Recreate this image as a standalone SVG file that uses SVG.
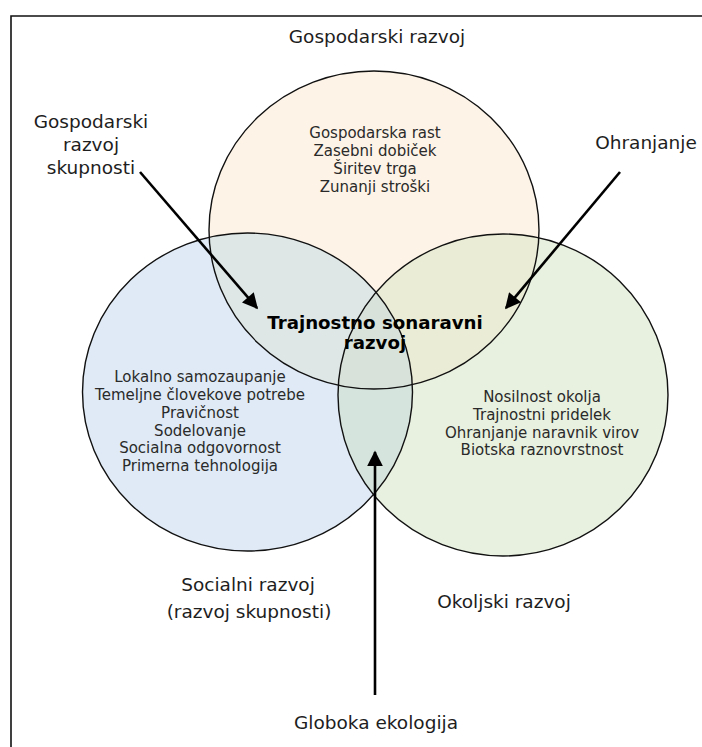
<svg xmlns="http://www.w3.org/2000/svg" width="702" height="747" viewBox="0 0 702 747">
<style>
.lbl{font-family:"DejaVu Sans","Liberation Sans",sans-serif;font-size:18.5px;fill:#1e1e1e;text-anchor:middle}
.in{font-family:"DejaVu Sans","Liberation Sans",sans-serif;font-size:15px;fill:#2a2a2a;text-anchor:middle}
.ctr{font-family:"DejaVu Sans","Liberation Sans",sans-serif;font-size:18.2px;font-weight:bold;fill:#000;text-anchor:middle}
.ring{fill:none;stroke:#111;stroke-width:1.4}
.arr{stroke:#000;stroke-width:2.6;fill:none;marker-end:url(#ah)}
</style>
<defs>
<marker id="ah" viewBox="0 0 10 10" refX="9" refY="5" markerWidth="6.5" markerHeight="6" orient="auto" markerUnits="strokeWidth">
<path d="M0,0 L10,5 L0,10 Z" fill="#000"/>
</marker>
<clipPath id="cT"><ellipse cx="374" cy="230" rx="165" ry="159"/></clipPath>
<clipPath id="cL"><ellipse cx="247.5" cy="392" rx="165" ry="159"/></clipPath>
<clipPath id="cR"><ellipse cx="503" cy="395" rx="165" ry="161"/></clipPath>
</defs>
<rect width="702" height="747" fill="#fff"/>
<path d="M11,747 V16 H702" fill="none" stroke="#111" stroke-width="1.6"/>
<g id="fills">
<ellipse cx="374" cy="230" rx="165" ry="159" fill="#fdf3e6"/>
<ellipse cx="247.5" cy="392" rx="165" ry="159" fill="#dfeaf6"/>
<ellipse cx="503" cy="395" rx="165" ry="161" fill="#e8f0df"/>
<g clip-path="url(#cT)"><ellipse cx="247.5" cy="392" rx="165" ry="159" fill="#dee6e6"/><ellipse cx="503" cy="395" rx="165" ry="161" fill="#eaecd5"/></g>
<g clip-path="url(#cL)"><ellipse cx="503" cy="395" rx="165" ry="161" fill="#d5e4dc"/></g>
<g clip-path="url(#cL)"><g clip-path="url(#cR)"><ellipse cx="374" cy="230" rx="165" ry="159" fill="#d8e2da"/></g></g>
</g>
<g id="node-gospodarski">
<ellipse class="ring" cx="374" cy="230" rx="165" ry="159"/>
<text class="lbl" x="377" y="43">Gospodarski razvoj</text>
<text class="in" x="375" y="138">Gospodarska rast</text>
<text class="in" x="375" y="156">Zasebni dobiček</text>
<text class="in" x="375" y="174">Širitev trga</text>
<text class="in" x="375" y="192">Zunanji stroški</text>
</g>
<g id="node-socialni">
<ellipse class="ring" cx="247.5" cy="392" rx="165" ry="159"/>
<text class="in" x="200" y="382">Lokalno samozaupanje</text>
<text class="in" x="200" y="400">Temeljne človekove potrebe</text>
<text class="in" x="200" y="418">Pravičnost</text>
<text class="in" x="200" y="435.5">Sodelovanje</text>
<text class="in" x="200" y="453">Socialna odgovornost</text>
<text class="in" x="200" y="471">Primerna tehnologija</text>
<text class="lbl" x="248" y="591">Socialni razvoj</text>
<text class="lbl" x="249" y="618">(razvoj skupnosti)</text>
</g>
<g id="node-okoljski">
<ellipse class="ring" cx="503" cy="395" rx="165" ry="161"/>
<text class="in" x="542" y="402">Nosilnost okolja</text>
<text class="in" x="542" y="420">Trajnostni pridelek</text>
<text class="in" x="542" y="437.5">Ohranjanje naravnik virov</text>
<text class="in" x="542" y="455">Biotska raznovrstnost</text>
<text class="lbl" x="504" y="608">Okoljski razvoj</text>
</g>
<g id="node-center">
<text class="ctr" x="375" y="329">Trajnostno sonaravni</text>
<text class="ctr" x="375" y="349">razvoj</text>
</g>
<g id="node-skupnosti">
<text class="lbl" x="91" y="128">Gospodarski</text>
<text class="lbl" x="91" y="151">razvoj</text>
<text class="lbl" x="91" y="174">skupnosti</text>
</g>
<g id="node-ohranjanje">
<text class="lbl" x="646" y="149">Ohranjanje</text>
</g>
<g id="node-globoka">
<text class="lbl" x="376" y="729">Globoka ekologija</text>
</g>
<g id="connectors">
<line class="arr" x1="140" y1="172" x2="257" y2="308"/>
<line class="arr" x1="620" y1="172" x2="506" y2="308"/>
<line class="arr" x1="375" y1="695" x2="375" y2="452"/>
</g>
</svg>
